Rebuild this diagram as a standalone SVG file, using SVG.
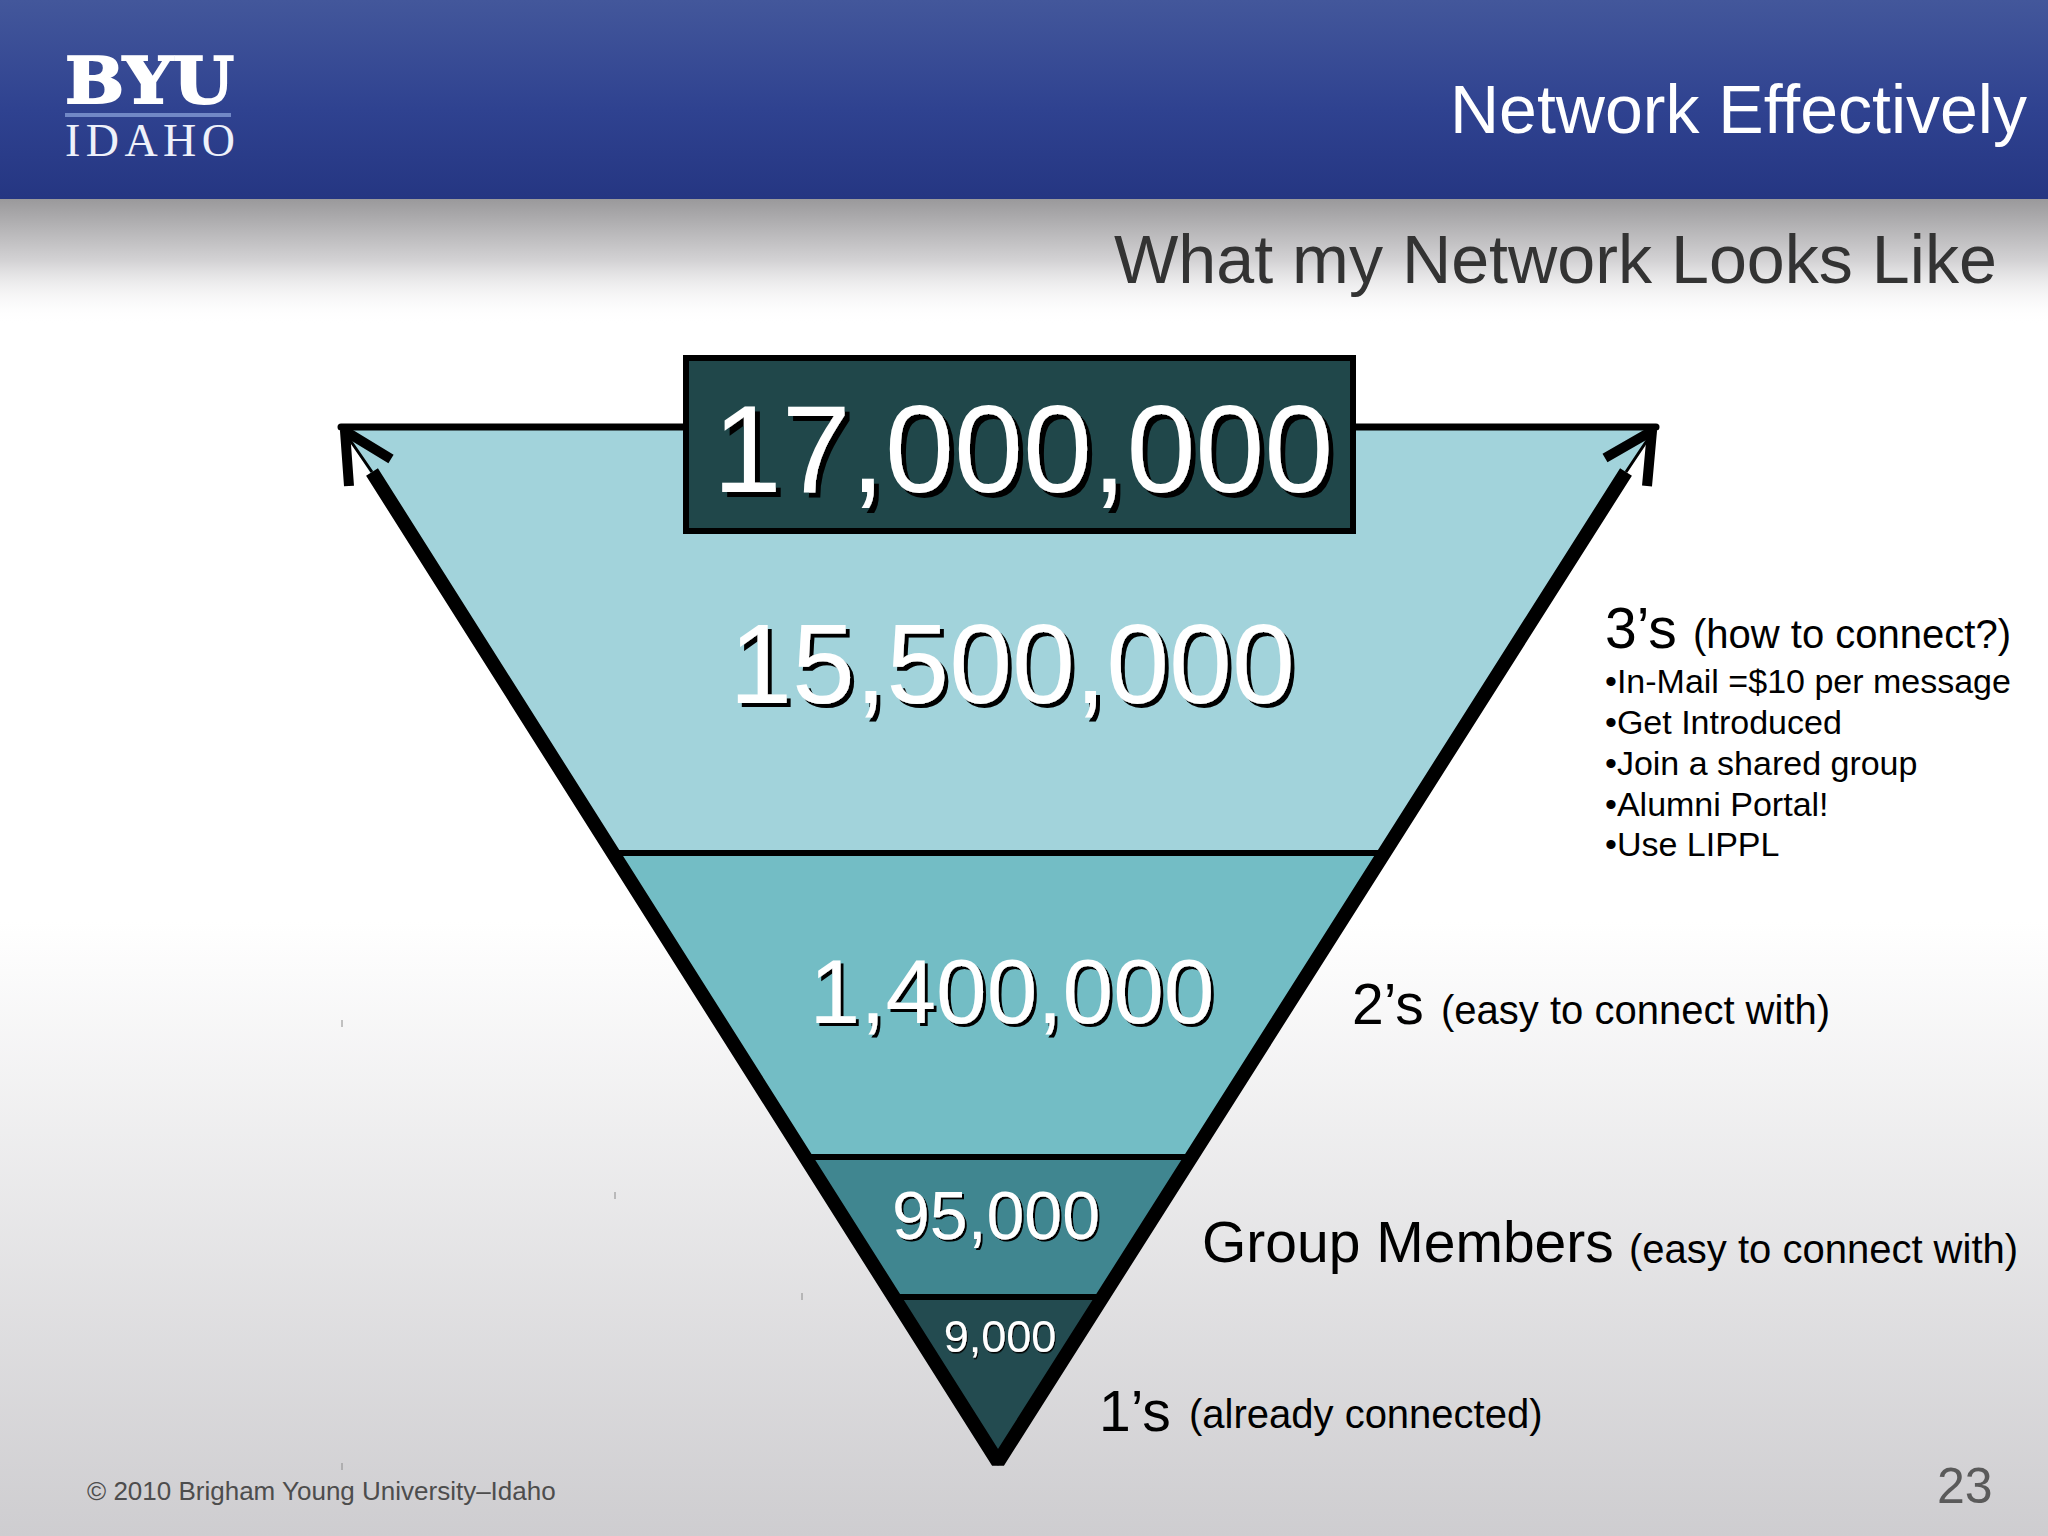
<svg xmlns="http://www.w3.org/2000/svg" width="2048" height="1536" viewBox="0 0 2048 1536">
<style>
text{font-family:"Liberation Sans",Arial,sans-serif}
.num{fill:#fff;text-anchor:middle}
.lg{font-size:57px;fill:#000}
.md{font-size:40px;fill:#000}
.bl{font-size:34px;fill:#000}
.edge{stroke:#000;fill:none}
.tick{stroke:#8a8a8a;stroke-width:1}
</style>
<defs>
<linearGradient id="bg" x1="0" y1="0" x2="0" y2="1"><stop offset="0" stop-color="#fff"/><stop offset="0.6" stop-color="#fff"/><stop offset="1" stop-color="#cecdd0"/></linearGradient>
<linearGradient id="hd" x1="0" y1="0" x2="0" y2="1"><stop offset="0" stop-color="#43579b"/><stop offset="0.55" stop-color="#2f4290"/><stop offset="1" stop-color="#253682"/></linearGradient>
<linearGradient id="shd" x1="0" y1="0" x2="0" y2="1"><stop offset="0" stop-color="#9a999b"/><stop offset="0.5" stop-color="#d4d3d5"/><stop offset="1" stop-color="#fff" stop-opacity="0"/></linearGradient>
<filter id="s5" x="-5%" y="-10%" width="110%" height="120%"><feDropShadow dx="5" dy="5" stdDeviation="0" flood-color="#000"/></filter>
<filter id="s4" x="-5%" y="-10%" width="110%" height="120%"><feDropShadow dx="4" dy="4" stdDeviation="0" flood-color="#000"/></filter>
<filter id="s3" x="-5%" y="-10%" width="110%" height="120%"><feDropShadow dx="3" dy="3" stdDeviation="0" flood-color="#000"/></filter>
<filter id="s2" x="-5%" y="-10%" width="110%" height="120%"><feDropShadow dx="2" dy="2" stdDeviation="0" flood-color="#000"/></filter>
<filter id="s1" x="-5%" y="-10%" width="110%" height="120%"><feDropShadow dx="1" dy="1.5" stdDeviation="0" flood-color="#000"/></filter>
</defs>
<g id="background">
<rect width="2048" height="1536" fill="url(#bg)"/>
<rect y="199" width="2048" height="125" fill="url(#shd)"/>
<rect width="2048" height="199" fill="url(#hd)"/>
</g>
<g id="logo">
<text x="65" y="103" font-size="64" font-weight="bold" fill="#fff" stroke="#fff" stroke-width="2" textLength="169" lengthAdjust="spacingAndGlyphs" style="font-family:'DejaVu Serif',serif">BYU</text>
<rect x="65" y="113" width="166" height="4" fill="#7188c6"/>
<text x="65" y="156" font-size="46" fill="#eef1fa" textLength="170" style="font-family:'Liberation Serif',serif">IDAHO</text>
</g>
<g id="title"><text x="1450" y="133" font-size="68" fill="#fff">Network Effectively</text></g>
<g id="subtitle"><text x="1114" y="283" font-size="68.2" fill="#333">What my Network Looks Like</text></g>
<g id="funnel">
<polygon id="tier-3" points="341,427 1656,427 1190,1157 807,1157" fill="#a2d3db"/>
<polygon id="tier-2" points="614,853 1383,853 1190,1157 807,1157" fill="#73bdc5"/>
<polygon id="tier-group" points="807,1157 1190,1157 1101,1297 896,1297" fill="#408690"/>
<polygon id="tier-1" points="896,1297 1101,1297 998,1466" fill="#234b50"/>
</g>
<g id="connectors">
<path class="edge" stroke-width="7" stroke-linecap="round" d="M341,427H1656"/>
<path class="edge" stroke-width="6" d="M611,853H1386M804,1157H1193M893,1297H1104"/>
<path class="edge" stroke-width="14" stroke-linejoin="bevel" d="M372,472L998,1462L1626,472"/>
<path class="edge" stroke-width="3" d="M372,472L341,427M1626,472L1656,427"/>
<path class="edge" stroke-width="10" stroke-linejoin="round" d="M349,486L345,431L391,459M1605,458L1652,431L1647,486"/>
</g>
<g id="top-box">
<rect x="686" y="358" width="667" height="173" fill="#20474a" stroke="#000" stroke-width="6"/>
<text class="num" x="1023" y="492" font-size="124" filter="url(#s5)">17,000,000</text>
</g>
<g id="count-3">
<text class="num" x="1012" y="703" font-size="113" filter="url(#s4)">15,500,000</text>
</g>
<g id="count-2">
<text class="num" x="1012" y="1023" font-size="91" filter="url(#s3)">1,400,000</text>
</g>
<g id="count-group">
<text class="num" x="996" y="1239" font-size="68" filter="url(#s2)">95,000</text>
</g>
<g id="count-1">
<text class="num" x="1000" y="1352" font-size="45" filter="url(#s1)">9,000</text>
</g>
<g id="label-3">
<text class="lg" x="1605" y="648">3’s</text>
<text class="md" x="1693" y="648">(how to connect?)</text>
<text class="bl" x="1605" y="693">•In-Mail =$10 per message</text>
<text class="bl" x="1605" y="734">•Get Introduced</text>
<text class="bl" x="1605" y="775">•Join a shared group</text>
<text class="bl" x="1605" y="816">•Alumni Portal!</text>
<text class="bl" x="1605" y="856">•Use LIPPL</text>
</g>
<g id="label-2">
<text class="lg" x="1352" y="1024">2’s</text>
<text class="md" x="1441" y="1024">(easy to connect with)</text>
</g>
<g id="label-group">
<text class="lg" x="1202" y="1262">Group Members</text>
<text class="md" x="1629" y="1263">(easy to connect with)</text>
</g>
<g id="label-1">
<text class="lg" x="1099" y="1431">1’s</text>
<text class="md" x="1189" y="1428">(already connected)</text>
</g>
<g id="footer">
<text x="87" y="1500" font-size="26" fill="#4d4d4d">© 2010 Brigham Young University–Idaho</text>
<text x="1937" y="1503" font-size="50" fill="#5a5a5a">23</text>
</g>
<g id="ticks">
<path class="tick" d="M342,1020v7M615,1192v7M802,1293v7M342,1463v7"/>
</g>
</svg>
